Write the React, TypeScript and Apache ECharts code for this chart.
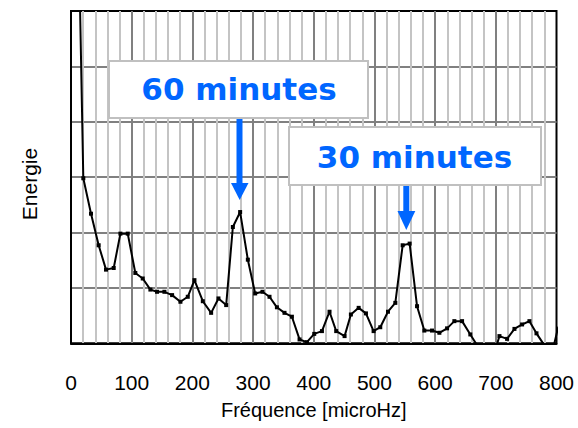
import React, { useEffect, useRef } from "react";
import * as echarts from "echarts";

const FREQ = [8, 20.3, 33, 45.6, 57.7, 70.4, 81.4, 93.5, 106, 118.2, 130.8, 141.8, 153.9, 166.6, 180.3, 192.4, 203.4, 217.2, 230.9, 243, 255.7, 266.7, 278.7, 291.4, 303.5, 315.5, 327.1, 339.3, 351.8, 364, 376.6, 388.7, 400.8, 413.5, 426, 437, 450.8, 461.2, 474, 486, 498.6, 509.6, 522.3, 534.4, 546.5, 558, 570.2, 582.2, 594.9, 607, 619.7, 631.7, 644.4, 658, 670, 682, 694, 706, 718.6, 730.7, 743.3, 755.4, 767, 779, 791, 803];
const ENERGY = [10, 2.98, 2.34, 1.77, 1.33, 1.36, 1.98, 1.98, 1.27, 1.17, 0.97, 0.93, 0.93, 0.87, 0.75, 0.84, 1.14, 0.76, 0.55, 0.81, 0.69, 2.1, 2.37, 1.51, 0.9, 0.93, 0.84, 0.65, 0.55, 0.48, 0.07, 0.02, 0.17, 0.22, 0.57, 0.22, 0.13, 0.52, 0.64, 0.54, 0.22, 0.29, 0.57, 0.73, 1.77, 1.8, 0.67, 0.23, 0.23, 0.19, 0.27, 0.4, 0.4, 0.16, -0.05, -0.5, -0.3, 0.13, 0.08, 0.26, 0.34, 0.4, 0.18, -0.02, -0.25, 0.3];
const ANNOT_LABELS = ["60 minutes", "30 minutes"];
const X_NAME = "Fréquence [microHz]";
const Y_NAME = "Energie";

const BLUE = "#0066ff";

export default function App() {
  const ref = useRef<HTMLDivElement>(null);
  useEffect(() => {
    if (!ref.current) return;
    const chart = echarts.init(ref.current, undefined, { renderer: "svg" });
    const data = FREQ.map((f, i) => [f, ENERGY[i]]);
    const annotFont = 'bold 31px "DejaVu Sans", Verdana, sans-serif';
    chart.setOption({
      animation: false,
      backgroundColor: "#fff",
      grid: {
        left: 71,
        top: 11,
        width: 485.5,
        height: 332.3,
        show: true,
        borderColor: "#000",
        borderWidth: 2,
        backgroundColor: "transparent",
      },
      xAxis: {
        type: "value",
        min: 0,
        max: 800,
        interval: 100,
        name: X_NAME,
        nameLocation: "middle",
        nameGap: 57,
        nameTextStyle: { fontFamily: '"Liberation Sans", Arial, sans-serif', fontSize: 20, color: "#000" },
        axisLine: { show: true, lineStyle: { color: "#000", width: 2 } },
        axisTick: { show: false },
        axisLabel: {
          margin: 29,
          fontFamily: '"Liberation Sans", Arial, sans-serif',
          fontSize: 21,
          color: "#000",
        },
        splitLine: { show: true, showMinLine: false, showMaxLine: false, lineStyle: { color: "#808080", width: 2 } },
        minorTick: { show: false, splitNumber: 5 },
        minorSplitLine: { show: true, lineStyle: { color: "#c4c4c4", width: 2 } },
      },
      yAxis: {
        type: "value",
        min: 0,
        max: 6,
        interval: 1,
        axisLine: { show: true, lineStyle: { color: "#000", width: 2 } },
        axisTick: { show: false },
        axisLabel: { show: false },
        splitLine: { show: true, showMinLine: false, showMaxLine: false, lineStyle: { color: "#808080", width: 2 } },
      },
      series: [
        {
          type: "line",
          data,
          clip: true,
          symbol: "rect",
          symbolSize: 4,
          showSymbol: true,
          lineStyle: { color: "#000", width: 2 },
          itemStyle: { color: "#000" },
          z: 3,
        },
      ],
      graphic: [
        {
          type: "text",
          x: 29,
          y: 184,
          rotation: Math.PI / 2,
          style: {
            text: Y_NAME,
            font: '21px "Liberation Sans", Arial, sans-serif',
            fill: "#000",
            align: "center",
            verticalAlign: "middle",
          },
        },
        {
          type: "rect",
          z: 10,
          shape: { x: 109, y: 61, width: 259, height: 57 },
          style: { fill: "#fff", stroke: "#c0c0c0", lineWidth: 2 },
        },
        {
          type: "text",
          z: 11,
          x: 239,
          y: 89,
          style: { text: ANNOT_LABELS[0], font: annotFont, fill: BLUE, align: "center", verticalAlign: "middle" },
        },
        {
          type: "rect",
          z: 10,
          shape: { x: 236.5, y: 119, width: 6, height: 65 },
          style: { fill: BLUE },
        },
        {
          type: "polygon",
          z: 10,
          shape: { points: [[231, 183], [248.5, 183], [239.7, 200]] },
          style: { fill: BLUE },
        },
        {
          type: "rect",
          z: 10,
          shape: { x: 289, y: 127, width: 252, height: 58 },
          style: { fill: "#fff", stroke: "#c0c0c0", lineWidth: 2 },
        },
        {
          type: "text",
          z: 11,
          x: 414.5,
          y: 157,
          style: { text: ANNOT_LABELS[1], font: annotFont, fill: BLUE, align: "center", verticalAlign: "middle" },
        },
        {
          type: "rect",
          z: 10,
          shape: { x: 403.3, y: 186, width: 6, height: 26 },
          style: { fill: BLUE },
        },
        {
          type: "polygon",
          z: 10,
          shape: { points: [[397.5, 211], [415.3, 211], [406.3, 230]] },
          style: { fill: BLUE },
        },
      ],
    });
    return () => chart.dispose();
  }, []);
  return <div ref={ref} style={{ width: 578, height: 428, position: "absolute", left: 0, top: 0 }} />;
}
